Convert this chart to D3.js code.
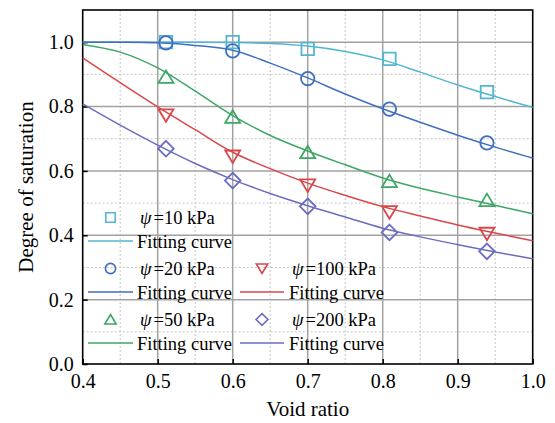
<!DOCTYPE html>
<html>
<head>
<meta charset="utf-8">
<script src="https://cdn.jsdelivr.net/npm/d3@7"></script>
<style>
  html, body { margin: 0; padding: 0; background: #fff; }
  svg text { font-family: "Liberation Serif", "Times New Roman", "DejaVu Serif", serif !important; }
</style>
</head>
<body>
<svg id="chart" width="555" height="423"></svg>
<script>
// Measured void ratios and degree of saturation at each suction level
const voidRatio = [0.511, 0.600, 0.700, 0.809, 0.939];
const sr10  = [1.000, 1.000, 0.979, 0.948, 0.845];
const sr20  = [0.998, 0.973, 0.887, 0.792, 0.687];
const sr50  = [0.892, 0.768, 0.658, 0.568, 0.509];
const sr100 = [0.773, 0.645, 0.555, 0.472, 0.405];
const sr200 = [0.669, 0.570, 0.490, 0.409, 0.350];

// Fitted curves sampled along the void ratio axis
const fitE    = [0.40, 0.45, 0.50, 0.55, 0.60, 0.65, 0.70, 0.75, 0.80, 0.85, 0.90, 0.95, 1.00];
const fit10   = [1.000, 1.000, 1.000, 1.000, 0.999, 0.996, 0.988, 0.971, 0.945, 0.907, 0.867, 0.831, 0.797];
const fit20   = [1.000, 1.000, 0.998, 0.990, 0.975, 0.935, 0.889, 0.839, 0.793, 0.751, 0.711, 0.674, 0.640];
const fit50   = [0.993, 0.969, 0.920, 0.848, 0.772, 0.710, 0.662, 0.619, 0.578, 0.546, 0.519, 0.493, 0.467];
const fit100  = [0.951, 0.874, 0.799, 0.728, 0.658, 0.607, 0.562, 0.524, 0.489, 0.460, 0.432, 0.407, 0.383];
const fit200  = [0.808, 0.742, 0.680, 0.623, 0.573, 0.530, 0.492, 0.457, 0.422, 0.395, 0.371, 0.348, 0.327];

const suctionLabels = ["10 kPa", "20 kPa", "50 kPa", "100 kPa", "200 kPa"];
const xTicks = [0.4, 0.5, 0.6, 0.7, 0.8, 0.9, 1.0];
const yTicks = [0.0, 0.2, 0.4, 0.6, 0.8, 1.0];

const colors  = ["#52b6d3", "#3f6fc0", "#3da765", "#d9474b", "#6c6cc0"];
const symbols = ["square", "circle", "triangleUp", "triangleDown", "diamond"];

const series = suctionLabels.map((label, i) => ({
  label,
  color: colors[i],
  symbol: symbols[i],
  points: voidRatio.map((e, j) => [e, [sr10, sr20, sr50, sr100, sr200][i][j]]),
  fit: fitE.map((e, j) => [e, [fit10, fit20, fit50, fit100, fit200][i][j]])
}));

const FONT = '"Liberation Serif", "Times New Roman", serif';
const svg = d3.select("#chart").style("font-family", FONT);
const m = { left: 82.7, right: 532.7, top: 10, bottom: 364 };

const x = d3.scaleLinear().domain([0.4, 1.0]).range([m.left, m.right]);
const y = d3.scaleLinear().domain([0, 1.1]).range([m.bottom, m.top]);

// Minor grid (dotted)
const g = svg.append("g");
d3.range(0.45, 1.0, 0.1).forEach(v => {
  g.append("line").attr("x1", x(v)).attr("x2", x(v)).attr("y1", m.top).attr("y2", m.bottom)
    .attr("stroke", "#c4c4c4").attr("stroke-width", 1).attr("stroke-dasharray", "2,2");
});
[0.1, 0.3, 0.5, 0.7, 0.9].forEach(v => {
  g.append("line").attr("x1", m.left).attr("x2", m.right).attr("y1", y(v)).attr("y2", y(v))
    .attr("stroke", "#c4c4c4").attr("stroke-width", 1).attr("stroke-dasharray", "2,2");
});
// Major grid (solid)
xTicks.slice(1, -1).forEach(v => {
  g.append("line").attr("x1", x(v)).attr("x2", x(v)).attr("y1", m.top).attr("y2", m.bottom)
    .attr("stroke", "#a2a2a2").attr("stroke-width", 1.5);
});
yTicks.slice(1).forEach(v => {
  g.append("line").attr("x1", m.left).attr("x2", m.right).attr("y1", y(v)).attr("y2", y(v))
    .attr("stroke", "#a2a2a2").attr("stroke-width", 1.5);
});

// Axes with inward ticks
const xAxis = svg.append("g").attr("transform", `translate(0,${m.bottom})`)
  .call(d3.axisBottom(x).tickValues(xTicks).tickFormat(d3.format(".1f")).tickSizeInner(-5).tickSizeOuter(0).tickPadding(10));
const yAxis = svg.append("g").attr("transform", `translate(${m.left},0)`)
  .call(d3.axisLeft(y).tickValues(yTicks).tickFormat(d3.format(".1f")).tickSizeInner(-5).tickSizeOuter(0).tickPadding(9));
[xAxis, yAxis].forEach(a => {
  a.attr("font-family", FONT);
  a.select(".domain").remove();
  a.selectAll(".tick line").attr("stroke", "#000").attr("stroke-width", 1.5);
  a.selectAll(".tick text").attr("fill", "#000").attr("font-size", 20).style("font-family", FONT);
});
xAxis.selectAll(".tick text").attr("dy", "0.71em");

// Frame
svg.append("rect").attr("x", m.left).attr("y", m.top)
  .attr("width", m.right - m.left).attr("height", m.bottom - m.top)
  .attr("fill", "none").attr("stroke", "#000").attr("stroke-width", 1.6);

// Axis titles
svg.append("text").attr("x", (m.left + m.right) / 2).attr("y", 416)
  .attr("text-anchor", "middle").attr("font-size", 21).style("font-family", FONT).text("Void ratio");
svg.append("text").attr("transform", `translate(33,${(m.top + m.bottom) / 2}) rotate(-90)`)
  .attr("text-anchor", "middle").attr("font-size", 21).style("font-family", FONT).text("Degree of saturation");

// Marker shapes
function markerPath(sym, s) {
  const h = s / 2;
  switch (sym) {
    case "square": return `M${-h},${-h}H${h}V${h}H${-h}Z`;
    case "circle": return d3.symbol(d3.symbolCircle, Math.PI * h * h * 1.15)();
    case "triangleUp": return `M0,${-h * 1.05}L${h * 1.2},${h * 0.95}L${-h * 1.2},${h * 0.95}Z`;
    case "triangleDown": return `M0,${h * 1.05}L${h * 1.2},${-h * 0.95}L${-h * 1.2},${-h * 0.95}Z`;
    case "diamond": return `M0,${-h * 1.25}L${h * 1.25},0L0,${h * 1.25}L${-h * 1.25},0Z`;
  }
}

const line = d3.line().x(d => x(d[0])).y(d => y(d[1])).curve(d3.curveCatmullRom.alpha(0.5));

const plot = svg.append("g");
series.forEach(s => {
  plot.append("path").datum(s.fit).attr("d", line)
    .attr("fill", "none").attr("stroke", s.color).attr("stroke-width", 1.5);
});
series.forEach(s => {
  plot.selectAll(null).data(s.points).enter().append("path")
    .attr("transform", d => `translate(${x(d[0])},${y(d[1])})`)
    .attr("d", markerPath(s.symbol, 12.5))
    .attr("fill", "none").attr("stroke", s.color).attr("stroke-width", 1.8);
});

// Legend: two columns, the second starting one row-pair lower
const legendCols = [
  { mx: 110.5, lx1: 88, lx2: 133, tx: 137, items: [0, 1, 2], startRow: 0 },
  { mx: 262, lx1: 240, lx2: 284, tx: 289, items: [3, 4], startRow: 1 }
];
const rowY0 = 217.5, pairStep = 51, lineOffset = 24;
const lg = svg.append("g").attr("font-size", 18.5);
legendCols.forEach(col => {
  col.items.forEach((idx, k) => {
    const s = series[idx];
    const ry = rowY0 + (col.startRow + k) * pairStep;
    lg.append("path").attr("transform", `translate(${col.mx},${ry})`)
      .attr("d", markerPath(s.symbol, 9.5))
      .attr("fill", "none").attr("stroke", s.color).attr("stroke-width", 1.6);
    const t = lg.append("text").attr("x", col.tx + 3).attr("y", ry + 6).style("font-family", FONT);
    t.append("tspan").attr("font-style", "italic").text("ψ");
    t.append("tspan").attr("dx", 2).text("=" + s.label);
    lg.append("line").attr("x1", col.lx1).attr("x2", col.lx2)
      .attr("y1", ry + lineOffset - 0.5).attr("y2", ry + lineOffset - 0.5)
      .attr("stroke", s.color).attr("stroke-width", 1.5);
    lg.append("text").attr("x", col.tx).attr("y", ry + lineOffset + 6).style("font-family", FONT).text("Fitting curve");
  });
});
</script>
</body>
</html>
